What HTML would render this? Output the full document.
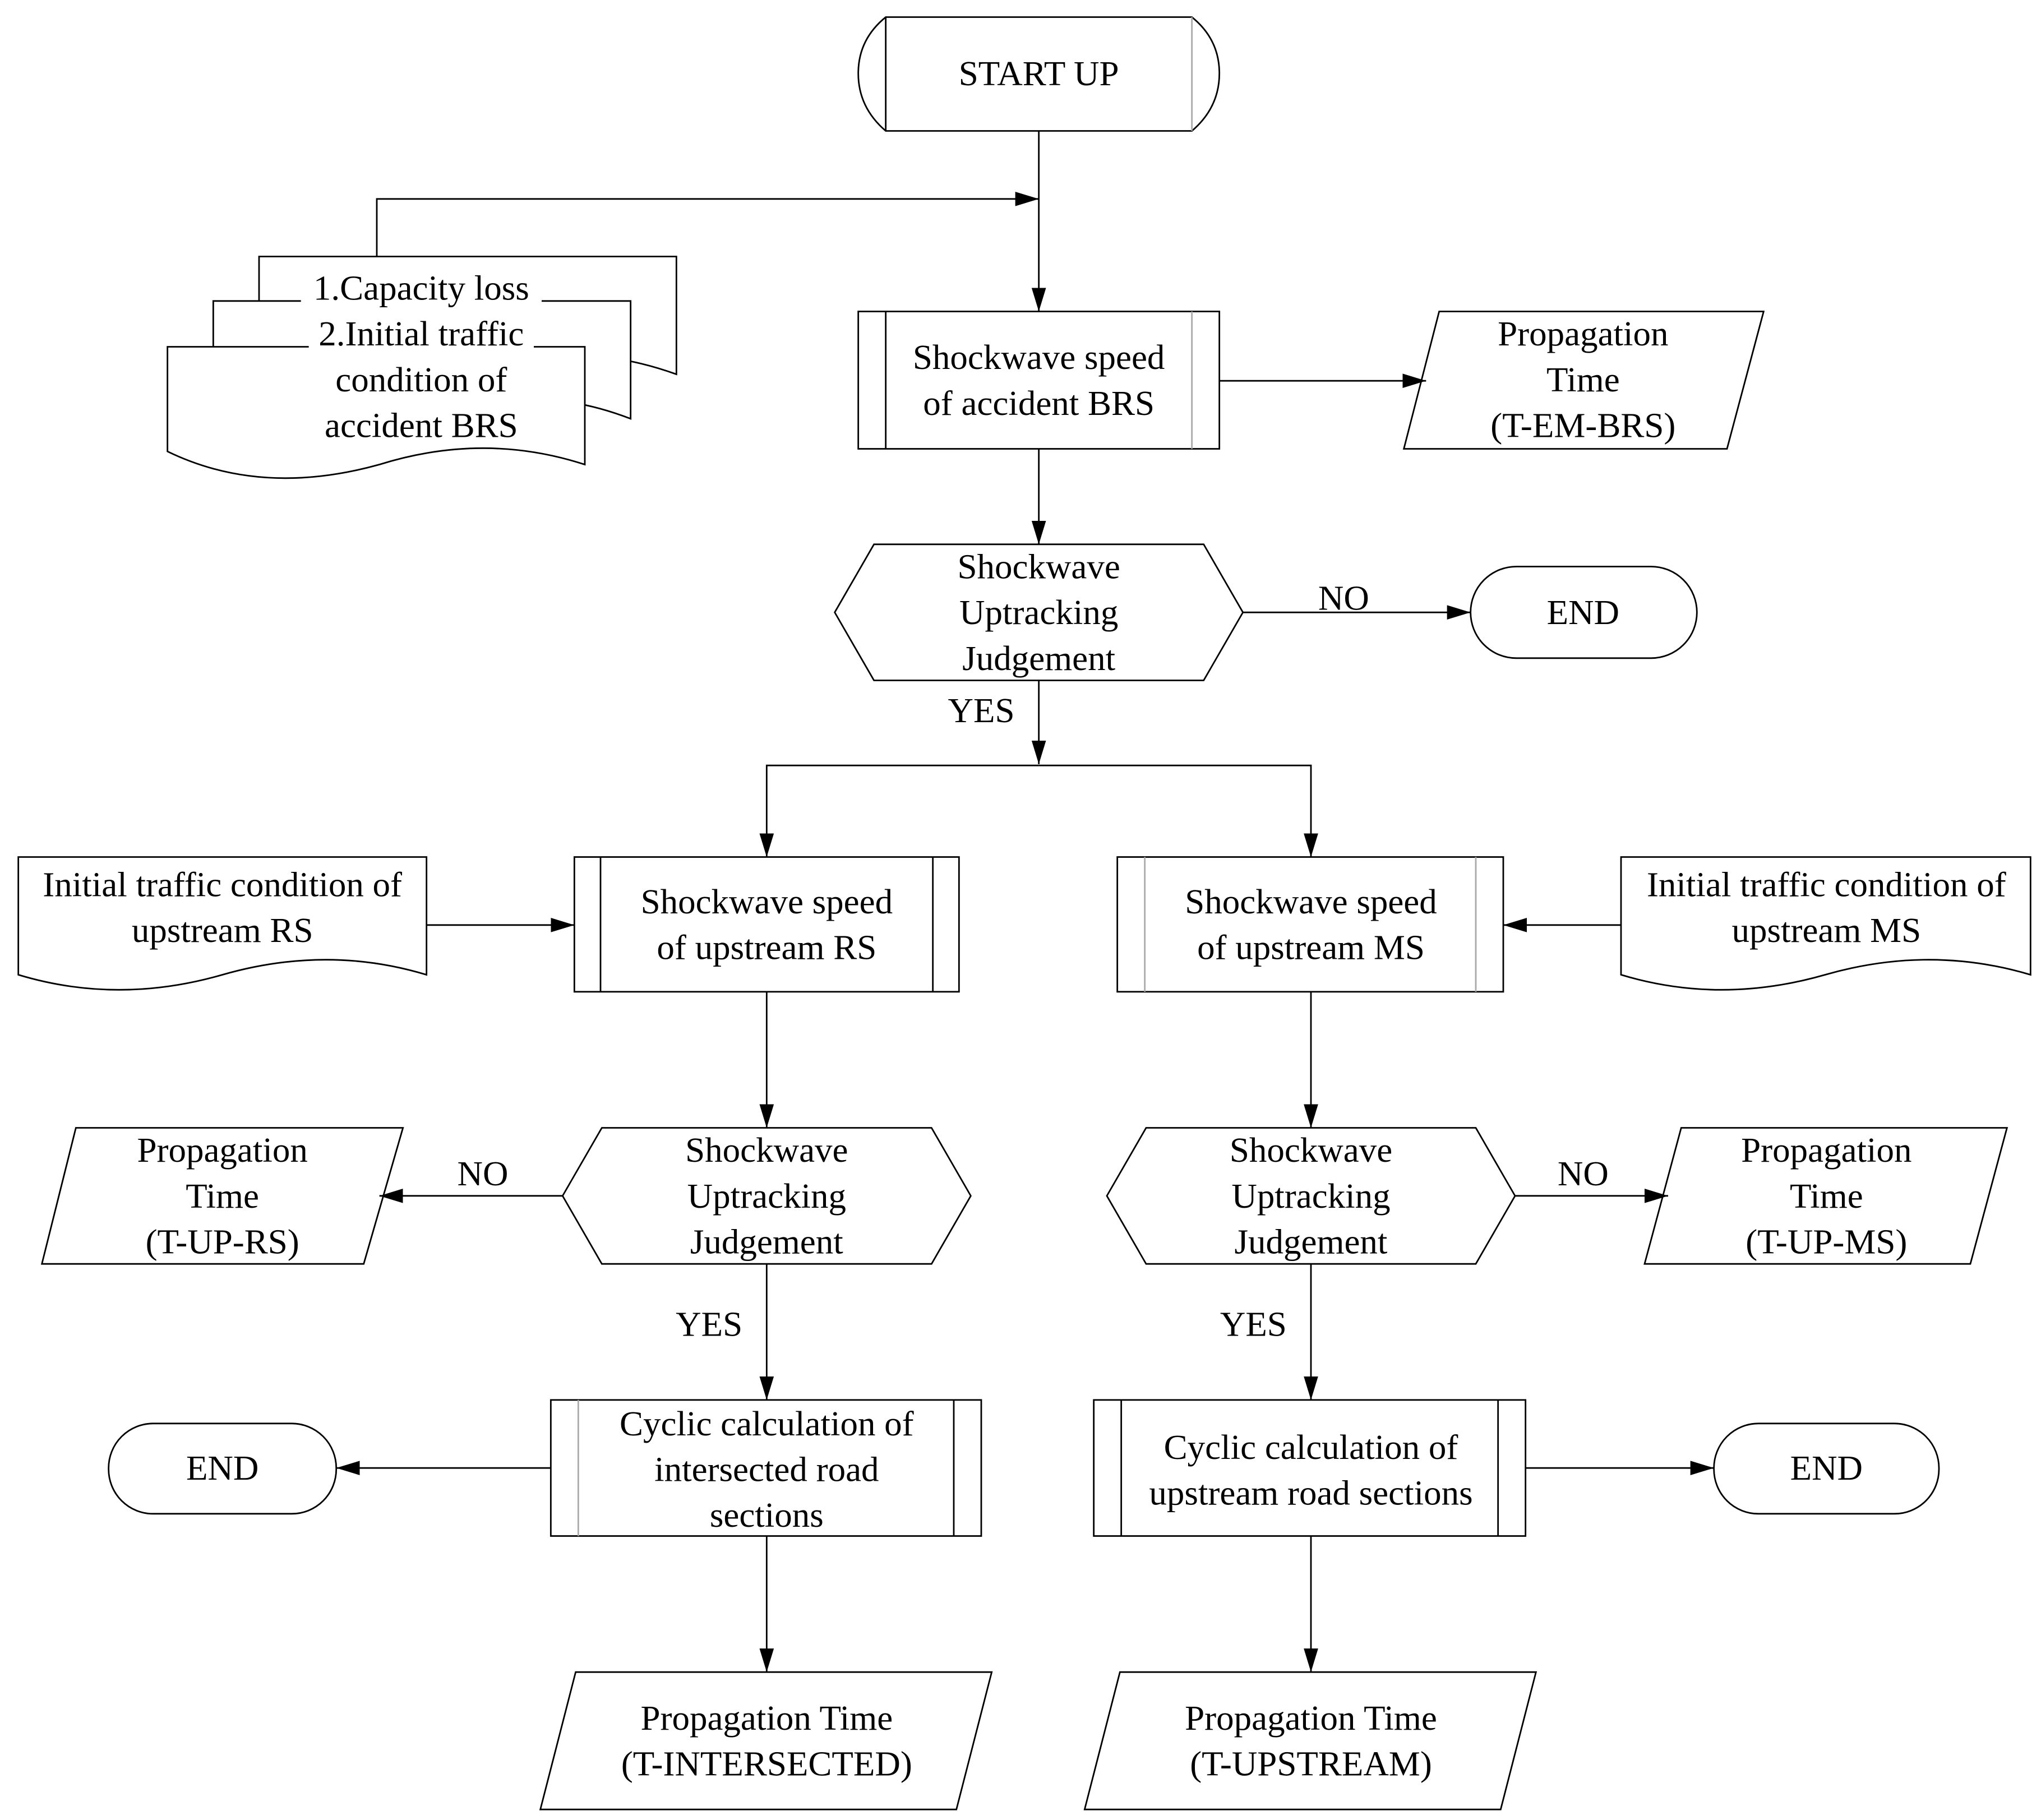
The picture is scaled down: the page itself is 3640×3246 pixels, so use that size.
<!DOCTYPE html>
<html><head><style>html,body{margin:0;padding:0;background:#fff}svg{display:block}</style></head>
<body>
<svg width="3640" height="3246" viewBox="0 0 1560 1391" xmlns="http://www.w3.org/2000/svg">
<defs><marker id="a" viewBox="0 0 18 11" refX="18" refY="5.5" markerWidth="18" markerHeight="11" markerUnits="userSpaceOnUse" orient="auto"><path d="M0,0 L18,5.5 L0,11z" fill="#000"/></marker></defs>
<rect width="1560" height="1391" fill="#fff"/>
<g fill="#fff" stroke="#000" stroke-width="1.2">
<path d="M677,13 H911 Q932,30 932,56 Q932,82 911,100 H677 Q656,82 656,56 Q656,30 677,13z"/>
<line x1="677" y1="13" x2="677" y2="100"/><line x1="911" y1="13" x2="911" y2="100" stroke="#aaa"/>
<path d="M198,196 H517 V286 Q450,262 400,280 L198,280z"/>
<path d="M163,230 H482 V320 Q420,296 360,310 L163,310z"/>
<path d="M128,265 H447 V355 Q370,330 290,355 Q200,380 128,345z"/>
<rect x="656" y="238" width="276" height="105"/><line x1="677" y1="238" x2="677" y2="343"/><line x1="911" y1="238" x2="911" y2="343" stroke="#aaa"/>
<polygon points="1100,238 1348,238 1320,343 1073,343"/>
<polygon points="668,416 920,416 950,468 920,520 668,520 638,468"/>
<rect x="1124" y="433" width="173" height="70" rx="35"/>
<rect x="439" y="655" width="294" height="103"/><line x1="459" y1="655" x2="459" y2="758"/><line x1="713" y1="655" x2="713" y2="758"/>
<rect x="854" y="655" width="295" height="103"/><line x1="875" y1="655" x2="875" y2="758" stroke="#aaa"/><line x1="1128" y1="655" x2="1128" y2="758" stroke="#aaa"/>
<path d="M14,655 H326 V745 Q250,722 170,745 Q90,768 14,745z"/>
<path d="M1239,655 H1552 V745 Q1475,722 1395,745 Q1315,768 1239,745z"/>
<polygon points="460,862 712,862 742,914 712,966 460,966 430,914"/>
<polygon points="876,862 1128,862 1158,914 1128,966 876,966 846,914"/>
<polygon points="58,862 308,862 278,966 32,966"/>
<polygon points="1285,862 1534,862 1506,966 1257,966"/>
<rect x="421" y="1070" width="329" height="104"/><line x1="442" y1="1070" x2="442" y2="1174" stroke="#aaa"/><line x1="729" y1="1070" x2="729" y2="1174"/>
<rect x="836" y="1070" width="330" height="104"/><line x1="857" y1="1070" x2="857" y2="1174"/><line x1="1145" y1="1070" x2="1145" y2="1174"/>
<rect x="83" y="1088" width="174" height="69" rx="34"/>
<rect x="1310" y="1088" width="172" height="69" rx="34"/>
<polygon points="440,1278 758,1278 731,1383 413,1383"/>
<polygon points="856,1278 1174,1278 1147,1383 829,1383"/>
</g>
<g fill="#fff"><rect x="230" y="204" width="184" height="30"/><rect x="236" y="239" width="172" height="30"/></g>
<g fill="none" stroke="#000" stroke-width="1.2" marker-end="url(#a)">
<line x1="794" y1="100" x2="794" y2="238"/>
<polyline points="288,196 288,152 794,152"/>
<line x1="932" y1="291" x2="1090" y2="291"/>
<line x1="794" y1="343" x2="794" y2="416"/>
<line x1="950" y1="468" x2="1124" y2="468"/>
<line x1="794" y1="520" x2="794" y2="584"/>
<polyline points="794,585 586,585 586,655"/>
<polyline points="794,585 1002,585 1002,655"/>
<line x1="326" y1="707" x2="439" y2="707"/>
<line x1="1239" y1="707" x2="1149" y2="707"/>
<line x1="586" y1="758" x2="586" y2="862"/>
<line x1="1002" y1="758" x2="1002" y2="862"/>
<line x1="430" y1="914" x2="290" y2="914"/>
<line x1="1158" y1="914" x2="1275" y2="914"/>
<line x1="586" y1="966" x2="586" y2="1070"/>
<line x1="1002" y1="966" x2="1002" y2="1070"/>
<line x1="421" y1="1122" x2="257" y2="1122"/>
<line x1="1166" y1="1122" x2="1310" y2="1122"/>
<line x1="586" y1="1174" x2="586" y2="1278"/>
<line x1="1002" y1="1174" x2="1002" y2="1278"/>
</g>
<g font-family="Liberation Serif, serif" font-size="27" text-anchor="middle" dominant-baseline="central" fill="#000">
<text x="794" y="56">START UP</text>
<text x="322" y="220">1.Capacity loss</text><text x="322" y="255">2.Initial traffic</text><text x="322" y="290">condition of</text><text x="322" y="325">accident BRS</text>
<text x="794" y="273">Shockwave speed</text><text x="794" y="308">of accident BRS</text>
<text x="1210" y="255">Propagation</text><text x="1210" y="290">Time</text><text x="1210" y="325">(T-EM-BRS)</text>
<text x="794" y="433">Shockwave</text><text x="794" y="468">Uptracking</text><text x="794" y="503">Judgement</text>
<text x="1027" y="457">NO</text><text x="1210" y="468">END</text><text x="750" y="543">YES</text>
<text x="170" y="676">Initial traffic condition of</text><text x="170" y="711">upstream RS</text>
<text x="586" y="689">Shockwave speed</text><text x="586" y="724">of upstream RS</text>
<text x="1002" y="689">Shockwave speed</text><text x="1002" y="724">of upstream MS</text>
<text x="1396" y="676">Initial traffic condition of</text><text x="1396" y="711">upstream MS</text>
<text x="586" y="879">Shockwave</text><text x="586" y="914">Uptracking</text><text x="586" y="949">Judgement</text>
<text x="1002" y="879">Shockwave</text><text x="1002" y="914">Uptracking</text><text x="1002" y="949">Judgement</text>
<text x="170" y="879">Propagation</text><text x="170" y="914">Time</text><text x="170" y="949">(T-UP-RS)</text>
<text x="1396" y="879">Propagation</text><text x="1396" y="914">Time</text><text x="1396" y="949">(T-UP-MS)</text>
<text x="369" y="897">NO</text><text x="1210" y="897">NO</text>
<text x="542" y="1012">YES</text><text x="958" y="1012">YES</text>
<text x="586" y="1088">Cyclic calculation of</text><text x="586" y="1123">intersected road</text><text x="586" y="1158">sections</text>
<text x="1002" y="1106">Cyclic calculation of</text><text x="1002" y="1141">upstream road sections</text>
<text x="170" y="1122">END</text><text x="1396" y="1122">END</text>
<text x="586" y="1313">Propagation Time</text><text x="586" y="1348">(T-INTERSECTED)</text>
<text x="1002" y="1313">Propagation Time</text><text x="1002" y="1348">(T-UPSTREAM)</text>
</g>
</svg>
</body></html>
